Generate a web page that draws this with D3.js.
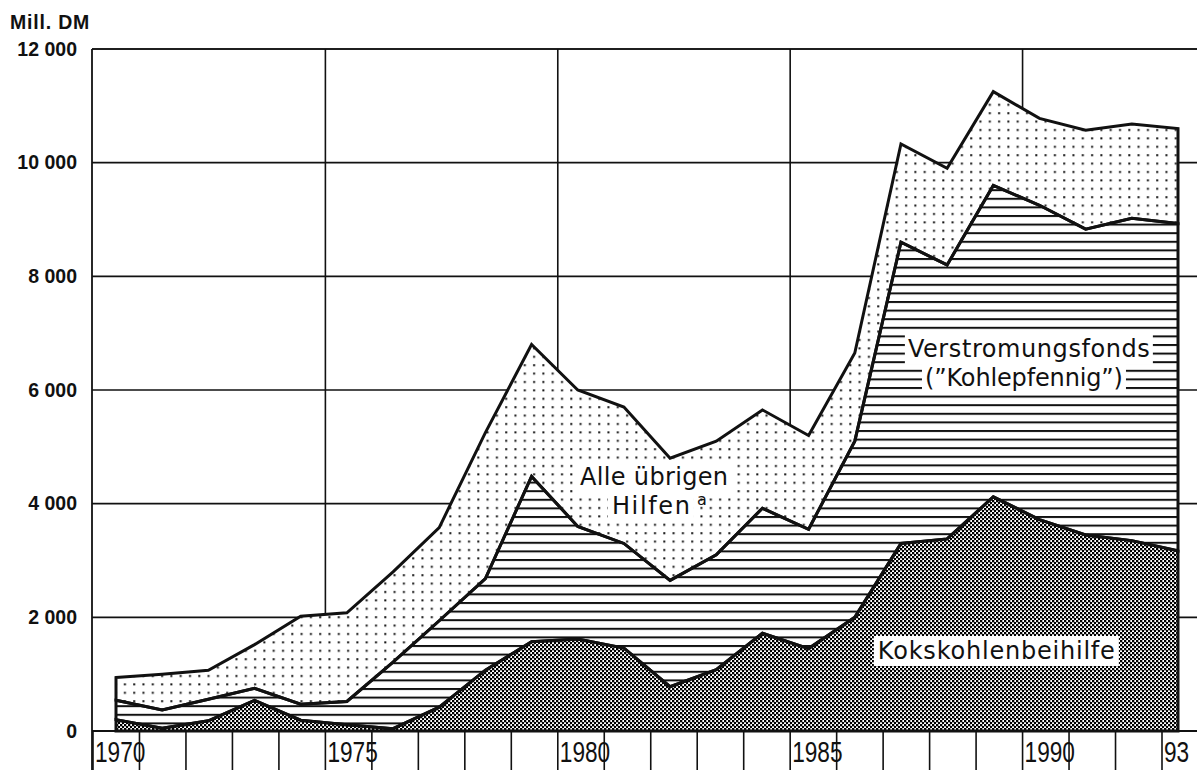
<!DOCTYPE html>
<html>
<head>
<meta charset="utf-8">
<script src="https://cdn.jsdelivr.net/npm/d3@7"></script>
<style>
  body { margin: 0; background: #fff; }
  svg { display: block; }
</style>
</head>
<body>
<svg id="chart" width="1197" height="770"></svg>
<script>
// years (data points sit in the middle of each year band)
var years = [1970, 1971, 1972, 1973, 1974, 1975, 1976, 1977, 1978, 1979, 1980, 1981,
             1982, 1983, 1984, 1985, 1986, 1987, 1988, 1989, 1990, 1991, 1992, 1993];

// Mill. DM
var kokskohle   = [200, 50, 180, 540, 190, 110, 40, 420, 1070, 1570, 1620, 1460,
                   780, 1080, 1720, 1450, 2000, 3300, 3380, 4120, 3720, 3450, 3350, 3170];
var verstromung = [340, 320, 380, 210, 280, 410, 1170, 1520, 1610, 2910, 1980, 1840,
                   1870, 2020, 2200, 2100, 3100, 5300, 4820, 5480, 5530, 5380, 5670, 5760];
var uebrige     = [400, 630, 510, 770, 1550, 1560, 1590, 1640, 2570, 2320, 2400, 2400,
                   2150, 2000, 1730, 1650, 1550, 1730, 1700, 1650, 1530, 1740, 1660, 1670];

var yTicks = [0, 2000, 4000, 6000, 8000, 10000, 12000];
var gridYears = [1975, 1980, 1985, 1990];
var labelYears = [1970, 1975, 1980, 1985, 1990, 1993];
var labelTexts = ["1970", "1975", "1980", "1985", "1990", "93"];

var svg = d3.select("#chart");
var W = 1197, H = 770;

var y = d3.scaleLinear().domain([0, 12000]).range([731, 49]);
var xTick = d3.scaleLinear().domain([1970, 1993]).range([93, 1162]);   // year band edges
var xData = d3.scaleLinear().domain([1970, 1993]).range([116, 1178]);  // data points

var de = d3.formatLocale({decimal: ",", thousands: " ", grouping: [3], currency: ["", ""]});
var fmt = de.format(",");

// patterns
var defs = svg.append("defs");
var pDots = defs.append("pattern").attr("id", "dots").attr("patternUnits", "userSpaceOnUse")
    .attr("width", 9.3).attr("height", 8.4);
pDots.append("rect").attr("x", 3).attr("y", 3).attr("width", 2).attr("height", 2).attr("fill", "#111");

var pLines = defs.append("pattern").attr("id", "hlines").attr("patternUnits", "userSpaceOnUse")
    .attr("width", 10).attr("height", 8.6);
pLines.append("rect").attr("x", 0).attr("y", 0).attr("width", 10).attr("height", 2).attr("fill", "#111");

var pCheck = defs.append("pattern").attr("id", "check").attr("patternUnits", "userSpaceOnUse")
    .attr("width", 4).attr("height", 4);
pCheck.append("rect").attr("x", 0).attr("y", 0).attr("width", 2.3).attr("height", 2.3).attr("fill", "#000");
pCheck.append("rect").attr("x", 2).attr("y", 2).attr("width", 2.3).attr("height", 2.3).attr("fill", "#000");

// grid
svg.append("g").selectAll("line").data(yTicks.slice(1)).enter().append("line")
    .attr("x1", 92).attr("x2", W)
    .attr("y1", function(d){ return y(d); }).attr("y2", function(d){ return y(d); })
    .attr("stroke", "#111").attr("stroke-width", 1.6);

svg.append("g").selectAll("line").data(gridYears).enter().append("line")
    .attr("x1", function(d){ return xTick(d); }).attr("x2", function(d){ return xTick(d); })
    .attr("y1", y(12000)).attr("y2", y(0))
    .attr("stroke", "#111").attr("stroke-width", 1.6);

// stacked areas
var rows = years.map(function(yr, i){
    return {year: yr, koks: kokskohle[i], ver: verstromung[i], ueb: uebrige[i]};
});
var stack = d3.stack().keys(["koks", "ver", "ueb"]);
var layers = stack(rows);
var fills = {koks: "url(#check)", ver: "url(#hlines)", ueb: "url(#dots)"};

var area = d3.area()
    .x(function(d){ return xData(d.data.year); })
    .y0(function(d){ return y(d[0]); })
    .y1(function(d){ return y(d[1]); });

var g = svg.append("g");
layers.forEach(function(layer){
    g.append("path").attr("d", area(layer)).attr("fill", "#fff");
    g.append("path").attr("d", area(layer)).attr("fill", fills[layer.key]);
});
layers.forEach(function(layer){
    g.append("path").attr("d", area(layer)).attr("fill", "none")
        .attr("stroke", "#111").attr("stroke-width", 3).attr("stroke-linejoin", "miter");
});

// labels inside the chart
var lab = svg.append("g").attr("font-family", "'DejaVu Sans', sans-serif").attr("font-size", 24).attr("fill", "#111");
function label(text, yr, val, len, padX, padY){
    var t = lab.append("text").attr("x", xData(yr)).attr("y", y(val)).text(text)
        .attr("textLength", len).attr("lengthAdjust", "spacing");
    var b = t.node().getBBox();
    lab.insert("rect", "text").attr("x", b.x - padX).attr("y", b.y - padY)
        .attr("width", b.width + 2 * padX).attr("height", b.height + 2 * padY).attr("fill", "#fff");
    return t;
}
label("Kokskohlenbeihilfe", 1986.5, 1267, 237, 4, 1);
label("Verstromungsfonds", 1987.15, 6581, 242, 3, 1);
label("(\u201dKohlepfennig\u201d)", 1987.52, 6070, 198, 3, 1);
label("Alle übrigen", 1980.05, 4328, 148, 4, 2);
label("Hilfen", 1980.74, 3818, 78, 4, 2);
lab.append("text").attr("x", xData(1980.74) + 85).attr("y", y(3818) - 9)
    .attr("font-size", 16).text("a");

// axes
var ax = svg.append("g").attr("stroke", "#111");
ax.append("line").attr("x1", 92).attr("x2", W).attr("y1", y(12000)).attr("y2", y(12000)).attr("stroke-width", 1.6);
ax.append("line").attr("x1", 92).attr("x2", W).attr("y1", y(0)).attr("y2", y(0)).attr("stroke-width", 2);
ax.append("line").attr("x1", 92).attr("x2", 92).attr("y1", y(12000)).attr("y2", H).attr("stroke-width", 1.8);

svg.append("g").selectAll("line").data(years).enter().append("line")
    .attr("x1", function(d){ return xTick(d); }).attr("x2", function(d){ return xTick(d); })
    .attr("y1", y(0)).attr("y2", H)
    .attr("stroke", "#111").attr("stroke-width", 1.6);

svg.append("g").selectAll("text").data(labelYears).enter().append("text")
    .attr("x", function(d){ return xTick(d) + 2; })
    .attr("y", 762)
    .attr("font-family", "'Liberation Sans Narrow', 'Liberation Sans', sans-serif")
    .attr("font-size", 29).attr("fill", "#111")
    .attr("textLength", function(d, i){ return labelTexts[i].length * 12.6; })
    .attr("lengthAdjust", "spacingAndGlyphs")
    .text(function(d, i){ return labelTexts[i]; });

var yAxis = d3.axisLeft(y).tickValues(yTicks).tickSize(0).tickPadding(15).tickFormat(fmt);
var ya = svg.append("g").attr("transform", "translate(92,0)").call(yAxis);
ya.select(".domain").remove();
ya.selectAll("text").attr("font-family", "'Liberation Sans', Arial, sans-serif")
    .attr("font-weight", "bold").attr("font-size", 19.5).attr("fill", "#111");

svg.append("text").attr("x", 10).attr("y", 29)
    .attr("font-family", "'Liberation Sans', Arial, sans-serif").attr("font-weight", "bold")
    .attr("font-size", 19.5).attr("fill", "#111").attr("letter-spacing", 0.8)
    .text("Mill. DM");
</script>
</body>
</html>
